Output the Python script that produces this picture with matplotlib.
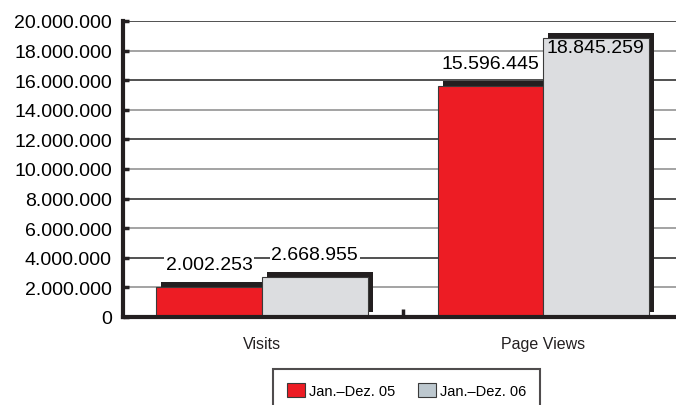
import matplotlib.pyplot as plt
import matplotlib.patheffects as pe
from matplotlib.patches import Patch
from matplotlib.ticker import FuncFormatter, FixedLocator
import numpy as np

plt.rcParams['font.family'] = ['Liberation Sans', 'DejaVu Sans']

# Daten
kategorien = ['Visits', 'Page Views']
serien = ['Jan.–Dez. 05', 'Jan.–Dez. 06']
werte_05 = [2002253, 15596445]
werte_06 = [2668955, 18845259]

rot = '#ed1c24'
grau = '#dcdde0'
grau_legende = '#bdc8cf'
schatten = '#231f20'

def punkte(zahl):
    return f'{int(zahl):,}'.replace(',', '.')

fig = plt.figure(figsize=(6.76, 4.06), dpi=100)
ax = fig.add_axes([123/676, 1 - 318/406, 1 - 123/676, (318 - 22)/406])

x = np.arange(len(kategorien))
breite = 0.3755
schatten_fx = [pe.SimplePatchShadow(offset=(3.6, 3.6), shadow_rgbFace=schatten, alpha=1.0), pe.Normal()]

b05 = ax.bar(x - breite/2, werte_05, breite, color=rot, edgecolor='#3a3a3a', linewidth=0.8, zorder=3)
b06 = ax.bar(x + breite/2, werte_06, breite, color=grau, edgecolor='#3a3a3a', linewidth=0.8, zorder=3)
for b in list(b05) + list(b06):
    b.set_path_effects(schatten_fx)

# Werte über den Balken
for xi, v in zip(x - breite/2, werte_05):
    ax.annotate(punkte(v), (xi, v), xytext=(0, 14), textcoords='offset pixels',
                ha='center', va='bottom', fontsize=14, zorder=5,
                bbox=dict(facecolor='white', edgecolor='none', pad=1))
for i, (xi, v) in enumerate(zip(x + breite/2, werte_06)):
    if v > 17000000:
        # kein Platz über dem Balken, Wert in den Balken setzen
        ax.annotate(punkte(v), (xi, v), xytext=(0, -1), textcoords='offset pixels',
                    ha='center', va='top', fontsize=14, zorder=5)
    else:
        ax.annotate(punkte(v), (xi, v), xytext=(0, 14), textcoords='offset pixels',
                    ha='center', va='bottom', fontsize=14, zorder=5,
                    bbox=dict(facecolor='white', edgecolor='none', pad=1))

ax.set_xlim(-0.4947, 1.473)
ax.set_ylim(0, 20000000)
ax.set_yticks(np.arange(0, 20000001, 2000000))
ax.yaxis.set_major_formatter(FuncFormatter(lambda v, p: punkte(v)))
ax.tick_params(axis='y', direction='in', length=4, width=2.5, pad=8, labelsize=14, color='#231f20')

ax.set_xticks(x)
ax.set_xticklabels(kategorien, fontsize=11.5, color='#231f20')
ax.tick_params(axis='x', which='major', length=0, pad=14)
ax.xaxis.set_minor_locator(FixedLocator([0.5]))
ax.tick_params(axis='x', which='minor', direction='in', length=6, width=2.5, color='#231f20')

# Gitterlinien abwechselnd dunkel und grau
for i, t in enumerate(np.arange(2000000, 20000001, 2000000)):
    farbe = '#222222' if i % 2 == 1 else '#8a8a8a'
    ax.axhline(t, color=farbe, linewidth=1.1, zorder=1)

for s in ['top', 'right']:
    ax.spines[s].set_visible(False)
ax.spines['left'].set_linewidth(3)
ax.spines['bottom'].set_linewidth(3)
ax.spines['left'].set_color('#231f20')
ax.spines['bottom'].set_color('#231f20')
ax.spines['left'].set_zorder(6)
ax.spines['bottom'].set_zorder(6)

handles = [Patch(facecolor=rot, edgecolor='#3a3a3a', linewidth=0.8),
           Patch(facecolor=grau_legende, edgecolor='#3a3a3a', linewidth=0.8)]
leg = fig.legend(handles, serien, loc='upper left', bbox_to_anchor=(273/676, 1 - 370/406),
                 ncol=2, fontsize=10.5, fancybox=False, frameon=True, borderaxespad=0,
                 borderpad=0.95, handlelength=1.25, handleheight=1.1, handletextpad=0.3,
                 columnspacing=1.5)
leg.get_frame().set_edgecolor('#231f20')
leg.get_frame().set_linewidth(1.5)

fig.savefig('out.png', dpi=100)
